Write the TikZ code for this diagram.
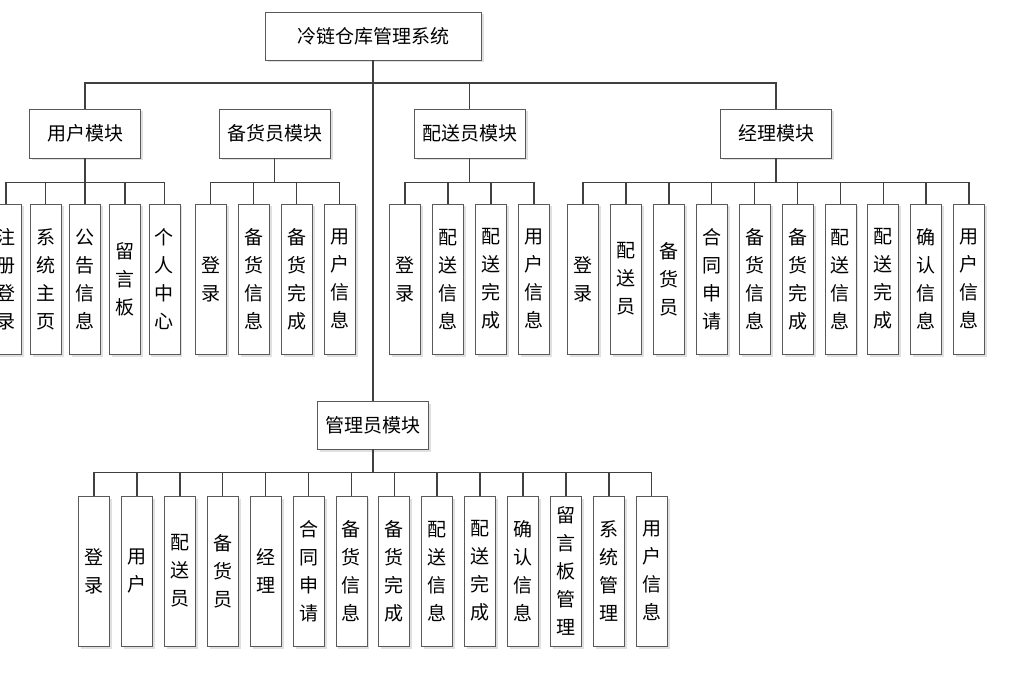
\documentclass[tikz,border=0pt]{standalone}
\usepackage{fontspec}
\newfontfamily\cjk{Noto Sans CJK SC}
\usepackage{tikz}
\usetikzlibrary{shadows}
\tikzstyle{box}=[draw=black!65, line width=0.8pt, fill=white, inner sep=0pt, font=\cjk\fontsize{19}{28}\selectfont, drop shadow={shadow xshift=2.5pt, shadow yshift=-2.5pt, fill=black!12, opacity=1}]
\tikzstyle{modbox}=[box, minimum width=111pt, minimum height=49pt]
\tikzstyle{leaf}=[box, minimum width=31pt, minimum height=150pt, align=center]
\tikzstyle{link}=[draw=black!75, line width=1.5pt]

\begin{document}
\begin{tikzpicture}[x=1pt,y=-1pt]
    \useasboundingbox (0,0) rectangle (1009,695);
    \node [modbox, minimum width=216pt, minimum height=48pt] (root) at (373,36) {冷链仓库管理系统};
    \node [modbox] (user) at (85,133.5) {用户模块};
    \node [modbox] (stock) at (274.5,133.5) {备货员模块};
    \node [modbox] (deliv) at (469.5,133.5) {配送员模块};
    \node [modbox] (mgr) at (776,133.5) {经理模块};
    \node [modbox, minimum height=48pt] (admin) at (373,425) {管理员模块};
    \coordinate (bus) at (373,83);
    \draw [link] (root) -- (admin);
    \draw [link] (user.north) |- (bus) -| (mgr.north);
    \draw [link] (deliv.north) -- (deliv.north |- bus);
    \path (user.south) ++(0,24) coordinate (ubus);
    \path (stock.south) ++(0,24) coordinate (sbus);
    \path (deliv.south) ++(0,24) coordinate (dbus);
    \path (mgr.south) ++(0,24) coordinate (mbus);
    \path (admin.south) ++(0,23) coordinate (abus);
    \draw [link] (user) -- (ubus);
    \draw [link] (stock) -- (sbus);
    \draw [link] (deliv) -- (dbus);
    \draw [link] (mgr) -- (mbus);
    \draw [link] (admin) -- (abus);
    \foreach \t [count=\i from 0] in {注\\册\\登\\录, 系\\统\\主\\页, 公\\告\\信\\息, 留\\言\\板, 个\\人\\中\\心}
        {\node [leaf] (u\i) at ({6+39.6*\i},279) {\t};
         \draw [link] (u\i.north) |- (ubus);}
    \foreach \t [count=\i from 0] in {登\\录, 备\\货\\信\\息, 备\\货\\完\\成, 用\\户\\信\\息}
        {\node [leaf] (s\i) at ({210.5+43*\i},279) {\t};
         \draw [link] (s\i.north) |- (sbus);}
    \foreach \t [count=\i from 0] in {登\\录, 配\\送\\信\\息, 配\\送\\完\\成, 用\\户\\信\\息}
        {\node [leaf] (d\i) at ({405+43*\i},279) {\t};
         \draw [link] (d\i.north) |- (dbus);}
    \foreach \t [count=\i from 0] in {登\\录, 配\\送\\员, 备\\货\\员, 合\\同\\申\\请, 备\\货\\信\\息, 备\\货\\完\\成, 配\\送\\信\\息, 配\\送\\完\\成, 确\\认\\信\\息, 用\\户\\信\\息}
        {\node [leaf] (m\i) at ({583+42.9*\i},279) {\t};
         \draw [link] (m\i.north) |- (mbus);}
    \foreach \t [count=\i from 0] in {登\\录, 用\\户, 配\\送\\员, 备\\货\\员, 经\\理, 合\\同\\申\\请, 备\\货\\信\\息, 备\\货\\完\\成, 配\\送\\信\\息, 配\\送\\完\\成, 确\\认\\信\\息, 留\\言\\板\\管\\理, 系\\统\\管\\理, 用\\户\\信\\息}
        {\node [leaf] (a\i) at ({94+42.9*\i},571) {\t};
         \draw [link] (a\i.north) |- (abus);}
\end{tikzpicture}
\end{document}
